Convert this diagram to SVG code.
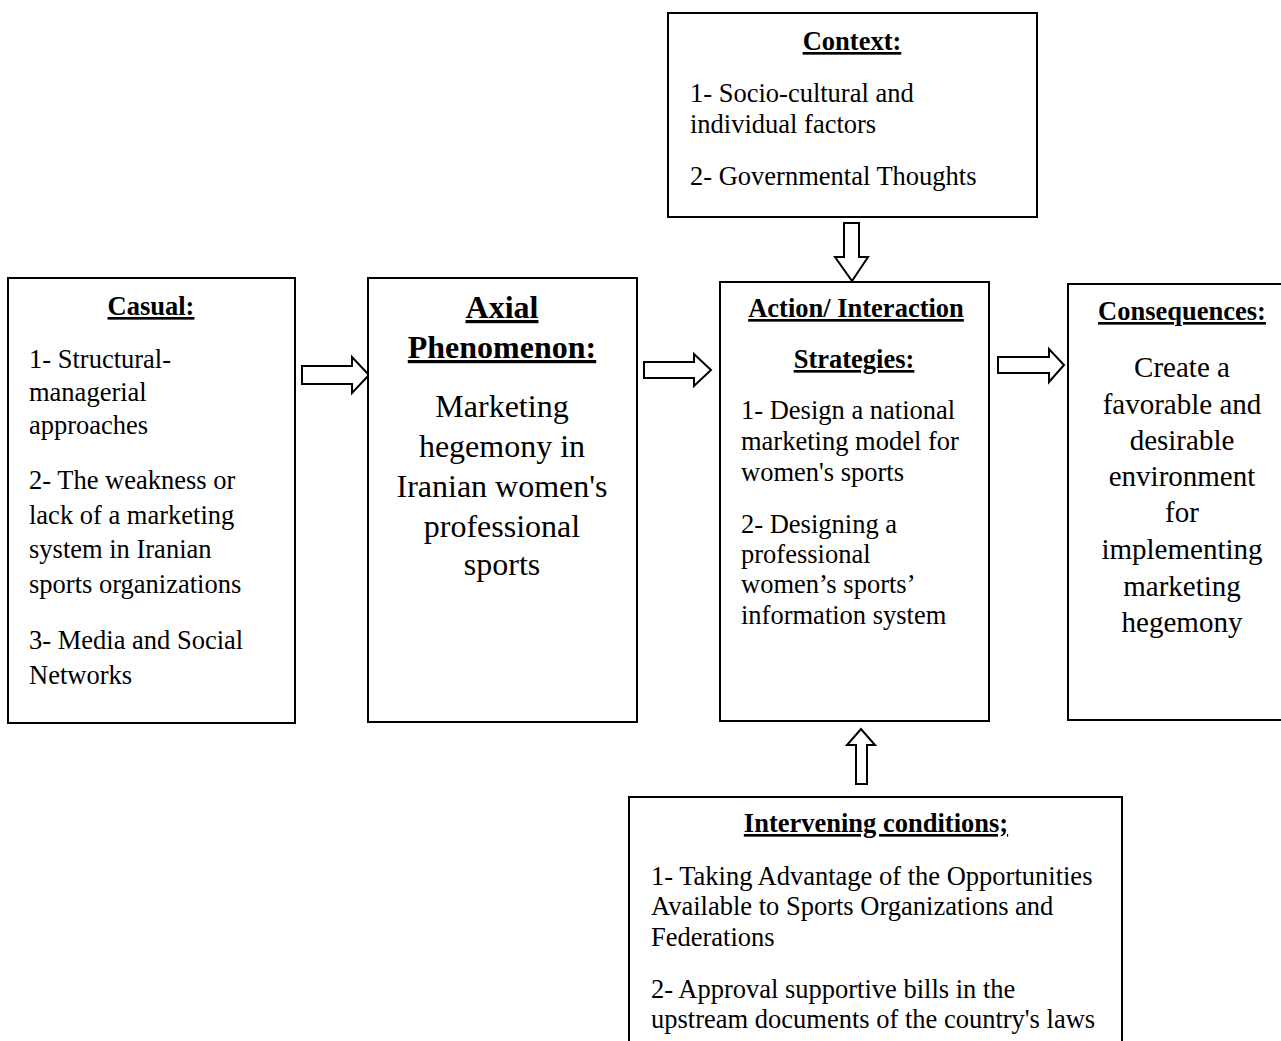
<svg xmlns="http://www.w3.org/2000/svg" width="1281" height="1041" viewBox="0 0 1281 1041">
<style>
.box{fill:#fff;stroke:#000;stroke-width:2}
.arr{fill:#fff;stroke:#000;stroke-width:2;stroke-linejoin:miter}
text{font-family:"Liberation Serif","Times New Roman",serif;fill:#000}
.h{font-weight:bold;font-size:26.5px;text-decoration:underline;text-anchor:middle}
.hb{font-weight:bold;font-size:32px;text-decoration:underline;text-anchor:middle}
.t{font-size:26.5px}
.big{font-size:32px;text-anchor:middle}
.mid{font-size:29px;text-anchor:middle}
</style>
<rect width="1281" height="1041" fill="#fff"/>
<g id="connectors">
<path class="arr" d="M302,366 L352,366 L352,357 L369,375 L352,393 L352,384 L302,384 Z"/>
<path class="arr" d="M644,362 L694,362 L694,354 L711,370 L694,386 L694,378 L644,378 Z"/>
<path class="arr" d="M998,357 L1049,357 L1049,349 L1064,365 L1049,382 L1049,373 L998,373 Z"/>
<path class="arr" d="M844,223 L859,223 L859,257 L868,257 L852,281 L835,257 L844,257 Z"/>
<path class="arr" d="M856,784 L867,784 L867,745 L875,745 L861,729 L847,745 L856,745 Z"/>
</g>
<g id="casual">
<rect class="box" x="8" y="278" width="287" height="445"/>
<text class="h" x="151" y="315">Casual:</text>
<text class="t" x="29" y="368">1- Structural-</text>
<text class="t" x="29" y="401">managerial</text>
<text class="t" x="29" y="434">approaches</text>
<text class="t" x="29" y="489">2- The weakness or</text>
<text class="t" x="29" y="524">lack of a marketing</text>
<text class="t" x="29" y="558">system in Iranian</text>
<text class="t" x="29" y="593">sports organizations</text>
<text class="t" x="29" y="649">3- Media and Social</text>
<text class="t" x="29" y="684">Networks</text>
</g>
<g id="axial">
<rect class="box" x="368" y="278" width="269" height="444"/>
<text class="hb" x="502" y="318">Axial</text>
<text class="hb" x="502" y="358">Phenomenon:</text>
<text class="big" x="502" y="417">Marketing</text>
<text class="big" x="502" y="457">hegemony in</text>
<text class="big" x="502" y="497">Iranian women's</text>
<text class="big" x="502" y="537">professional</text>
<text class="big" x="502" y="575">sports</text>
</g>
<g id="context">
<rect class="box" x="668" y="13" width="369" height="204"/>
<text class="h" x="852" y="50">Context:</text>
<text class="t" x="690" y="102">1- Socio-cultural and</text>
<text class="t" x="690" y="133">individual factors</text>
<text class="t" x="690" y="185">2- Governmental Thoughts</text>
</g>
<g id="action">
<rect class="box" x="720" y="282" width="269" height="439"/>
<text class="h" x="856" y="317">Action/ Interaction</text>
<text class="h" x="854" y="368">Strategies:</text>
<text class="t" x="741" y="419">1- Design a national</text>
<text class="t" x="741" y="450">marketing model for</text>
<text class="t" x="741" y="481">women's sports</text>
<text class="t" x="741" y="533">2- Designing a</text>
<text class="t" x="741" y="563">professional</text>
<text class="t" x="741" y="593">women’s sports’</text>
<text class="t" x="741" y="624">information system</text>
</g>
<g id="consequences">
<rect class="box" x="1068" y="284" width="230" height="436"/>
<text class="h" x="1182" y="320">Consequences:</text>
<text class="mid" x="1182" y="377">Create a</text>
<text class="mid" x="1182" y="414">favorable and</text>
<text class="mid" x="1182" y="450">desirable</text>
<text class="mid" x="1182" y="486">environment</text>
<text class="mid" x="1182" y="522">for</text>
<text class="mid" x="1182" y="559">implementing</text>
<text class="mid" x="1182" y="596">marketing</text>
<text class="mid" x="1182" y="632">hegemony</text>
</g>
<g id="intervening">
<rect class="box" x="629" y="797" width="493" height="270"/>
<text class="h" x="876" y="832">Intervening conditions;</text>
<text class="t" x="651" y="885">1- Taking Advantage of the Opportunities</text>
<text class="t" x="651" y="915">Available to Sports Organizations and</text>
<text class="t" x="651" y="946">Federations</text>
<text class="t" x="651" y="998">2- Approval supportive bills in the</text>
<text class="t" x="651" y="1028">upstream documents of the country's laws</text>
</g>
</svg>
